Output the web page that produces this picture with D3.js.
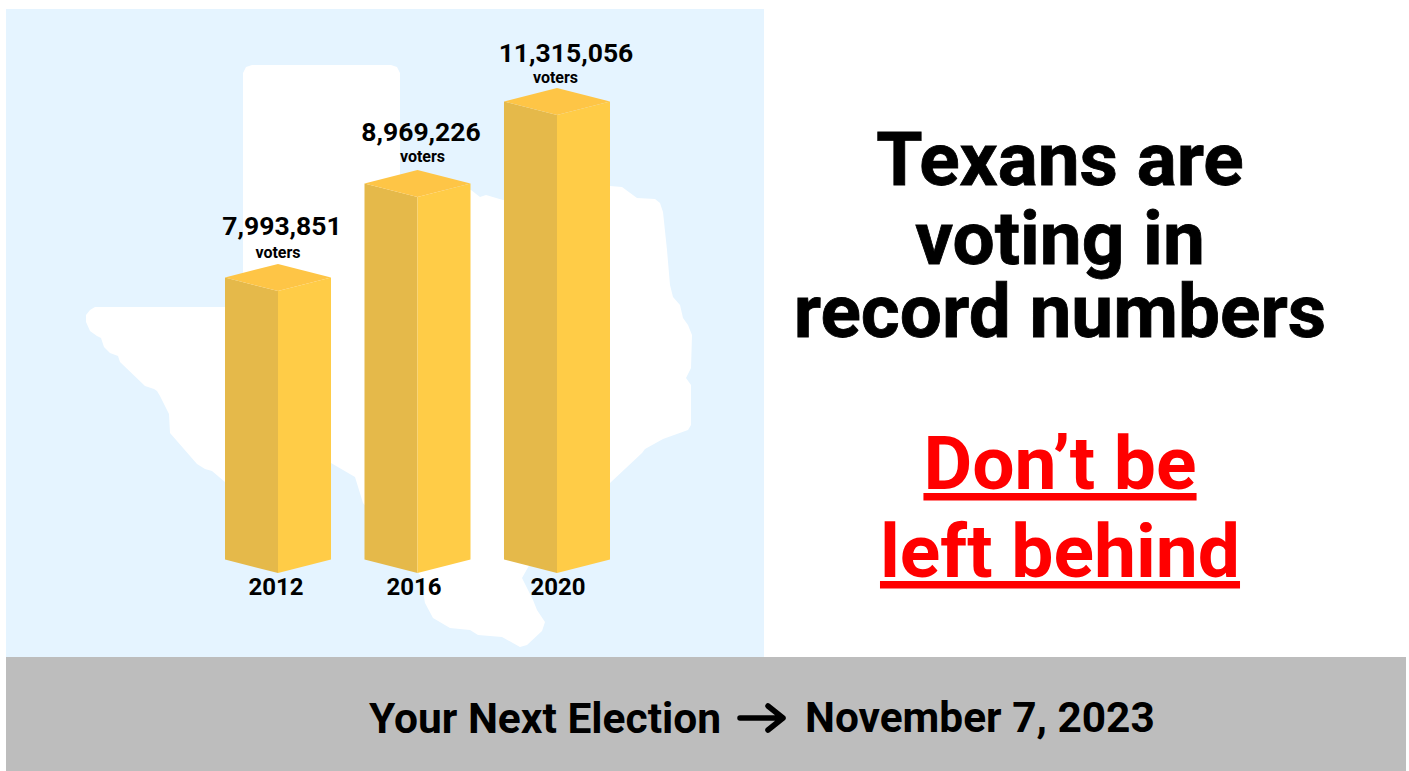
<!DOCTYPE html>
<html><head><meta charset="utf-8">
<script src="https://cdn.jsdelivr.net/npm/d3@7"></script>
<style>
html,body{margin:0;padding:0;background:#fff}
svg{display:block}
text{font-family:Roboto,sans-serif;fill:#000}
</style></head><body>
<script>
// Texas turnout by presidential election year
const years = ["2012", "2016", "2020"];
const voters = [7993851, 8969226, 11315056];

const headline = ["Texans are", "voting in", "record numbers"];
const callout = ["Don\u2019t be", "left behind"];
const footerLead = "Your Next Election";
const footerDate = "November 7, 2023";

// Outline of the state, in panel pixels
const texasOutline = [
  [252,65],[391,65],[397,67],[400,73],[400,190],[471,190],[480,197],[486,195],[503,200],[610,186],[622,187],[637,198],
  [655,199],[660,203],[663,212],[667,250],[670,285],[673,297],[680,305],[683,318],[688,325],[692,335],
  [691,368],[686,378],[691,385],[691,425],[688,430],[663,439],[645,449],[642,453],[610,483],[535,555],
  [522,578],[533,600],[537,610],[545,622],[542,631],[527,645],[520,647],[502,637],[478,635],[470,630],
  [450,628],[433,618],[425,603],[420,575],[363,503],[355,477],[331,463],[225,482],[212,471],[205,469],[197,464],
  [170,433],[169,414],[160,396],[157,391],[154,389],[145,386],[120,362],[118,356],[110,353],[104,347],
  [101,338],[97,336],[90,331],[86,322],[86,315],[90,310],[95,307],[243,307],[243,73],[246,67]
];

const W = 1409, H = 771;
const svg = d3.select("body").append("svg").attr("width", W).attr("height", H);

// Page panels
svg.append("rect").attr("x", 6).attr("y", 9).attr("width", 758).attr("height", 648).attr("fill", "#e5f4ff");
svg.append("rect").attr("x", 6).attr("y", 657).attr("width", 1400).attr("height", 114).attr("fill", "#bdbdbd");

svg.append("path")
  .attr("d", d3.line().curve(d3.curveLinearClosed)(texasOutline))
  .attr("fill", "#fff");

// Band scale for bar positions; height scale passes through each value
const x = d3.scaleBand().domain(years).range([225, 610]).paddingInner(0.24);
const h = d3.scaleLinear().domain([0, 7993851, 8969226, 11315056]).range([0, 282, 376, 458]);

// Per-bar label placement around each prism
const labelShift = {
  "2012": {valueX: 4, valueY: -29, unitX: 0, unitY: -6, yearX: -2},
  "2016": {valueX: 3.5, valueY: -29, unitX: 5, unitY: -8, yearX: -3.5},
  "2020": {valueX: 9, valueY: -26, unitX: -1.5, unitY: -5, yearX: 1}
};

const baseY = 573, rise = 13.5;
const bars = svg.selectAll("g.bar").data(years.map((y, i) => ({year: y, value: voters[i]})))
  .join("g").attr("class", "bar");

bars.each(function(d) {
  const g = d3.select(this);
  const s = labelShift[d.year];
  const left = x(d.year), w = x.bandwidth(), mid = left + w / 2, right = left + w;
  const top = baseY - h(d.value), apex = top - 2 * rise;
  g.append("path").attr("fill", "#e5b94a")
    .attr("d", d3.line()([[left, top - rise], [mid, top], [mid, baseY], [left, baseY - rise]]));
  g.append("path").attr("fill", "#ffcc47")
    .attr("d", d3.line()([[mid, top], [right, top - rise], [right, baseY - rise], [mid, baseY]]));
  g.append("path").attr("fill", "#fec546")
    .attr("d", d3.line()([[left, top - rise], [mid, apex], [right, top - rise], [mid, top]]));
  g.append("text").attr("x", mid + s.valueX).attr("y", apex + s.valueY)
    .attr("text-anchor", "middle").attr("font-size", 26.5).attr("font-weight", 700)
    .text(d3.format(",")(d.value));
  g.append("text").attr("x", mid + s.unitX).attr("y", apex + s.unitY)
    .attr("text-anchor", "middle").attr("font-size", 16).attr("font-weight", 700)
    .text("voters");
  g.append("text").attr("x", mid + s.yearX).attr("y", 595)
    .attr("text-anchor", "middle").attr("font-size", 24).attr("font-weight", 700)
    .text(d.year);
});

// Headline block
const headlineY = d3.scalePoint().domain(headline).range([185, 337]);
svg.selectAll("text.head").data(headline).join("text").attr("class", "head")
  .attr("x", 1060).attr("y", (d, i) => headlineY(d) + (i === 1 ? 3 : 0))
  .attr("text-anchor", "middle").attr("font-size", 74.8).attr("font-weight", 700)
  .attr("stroke", "#000").attr("stroke-width", 0.8).text(d => d);

svg.selectAll("text.call").data(callout).join("text").attr("class", "call")
  .attr("x", 1060).attr("y", (d, i) => 489 + i * 88)
  .attr("text-anchor", "middle").attr("font-size", 75).attr("font-weight", 700)
  .attr("text-decoration", "underline").style("fill", "#ff0000").text(d => d);

// Footer with arrow between the two phrases
svg.append("text").attr("x", 369).attr("y", 733).attr("font-size", 42.5).attr("font-weight", 700).text(footerLead);
svg.append("text").attr("x", 805).attr("y", 732).attr("font-size", 42.4).attr("font-weight", 700).text(footerDate);
svg.append("path").attr("d", "M740 718H783M768 706L783 718L768 730")
  .attr("fill", "none").attr("stroke", "#000").attr("stroke-width", 5.5)
  .attr("stroke-linecap", "round").attr("stroke-linejoin", "round");
</script></body></html>
